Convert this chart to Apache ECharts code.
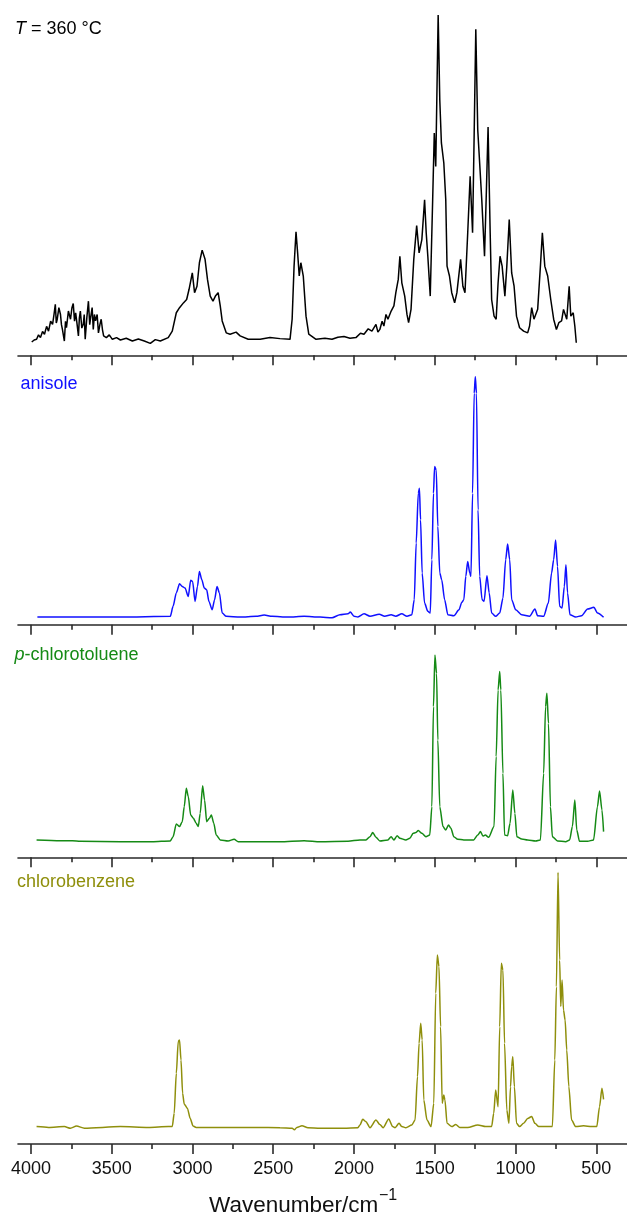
<!DOCTYPE html>
<html>
<head>
<meta charset="utf-8">
<script src="https://cdn.jsdelivr.net/npm/echarts@6/dist/echarts.min.js"></script>
<style>
html,body{margin:0;padding:0;background:#fff;}
#chart{width:627px;height:1214px;}
</style>
</head>
<body>
<div id="chart"></div>
<script>
// x: wavenumber / cm^-1, y: absorbance (each panel normalised to its tallest peak)
const majorTicks = [4000, 3500, 3000, 2500, 2000, 1500, 1000, 500];
const minorTicks = [3750, 3250, 2750, 2250, 1750, 1250, 750];
const panelLabels = ['{it|T} = 360 °C', 'anisole', '{it|p}-chlorotoluene', 'chlorobenzene'];
const panelColors = ['#000000', '#1010ff', '#158a15', '#8f8f0c'];
const axisTitle = 'Wavenumber/cm';
const axisTitleSup = '\u22121';

const spectrum360 = [
[3995,0.039],[3980,0.045],[3965,0.047],[3953,0.060],[3941,0.052],[3928,0.070],[3916,0.062],[3903,0.085],[3891,0.071],[3878,0.100],[3866,0.091],[3857,0.120],[3849,0.150],[3843,0.095],[3837,0.106],[3827,0.140],[3817,0.120],[3811,0.090],[3805,0.076],
[3793,0.042],[3786,0.100],[3780,0.081],[3768,0.130],[3755,0.106],[3746,0.140],[3738,0.152],[3730,0.100],[3723,0.125],[3714,0.090],[3706,0.057],[3700,0.110],[3694,0.130],[3685,0.080],[3676,0.091],[3670,0.120],[3664,0.047],[3654,0.110],[3644,0.159],
[3636,0.090],[3629,0.115],[3621,0.140],[3614,0.076],[3607,0.120],[3600,0.101],[3590,0.120],[3582,0.066],[3573,0.090],[3565,0.106],[3557,0.075],[3550,0.057],[3533,0.052],[3515,0.060],[3496,0.047],[3470,0.052],[3446,0.045],[3410,0.050],[3372,0.042],
[3335,0.048],[3298,0.042],[3261,0.035],[3230,0.046],[3199,0.042],[3150,0.052],[3125,0.071],[3100,0.125],[3080,0.140],[3056,0.154],[3036,0.164],[3021,0.194],
[3001,0.242],[2987,0.184],[2972,0.203],[2957,0.272],[2940,0.309],[2922,0.282],[2907,0.223],[2890,0.174],[2873,0.159],[2858,0.174],
[2841,0.184],[2828,0.145],[2816,0.101],[2791,0.066],[2767,0.062],[2730,0.068],[2705,0.057],[2655,0.047],[2581,0.047],[2520,0.052],[2458,0.049],
[2396,0.047],[2383,0.106],[2371,0.262],[2359,0.363],[2349,0.301],[2339,0.233],[2329,0.272],[2314,0.233],[2297,0.115],[2280,0.062],
[2235,0.047],[2180,0.050],[2136,0.047],[2100,0.053],[2062,0.055],[2025,0.050],[1988,0.052],[1960,0.065],[1938,0.062],[1912,0.078],[1889,0.071],[1864,0.091],[1852,0.068],[1840,0.076],[1826,0.100],[1815,0.086],[1802,0.120],[1790,0.106],
[1770,0.130],[1753,0.145],[1741,0.184],[1726,0.223],[1716,0.291],[1704,0.213],[1686,0.174],[1672,0.120],[1662,0.096],[1647,0.135],
[1630,0.282],[1612,0.381],[1597,0.301],[1580,0.340],[1563,0.457],[1553,0.360],[1543,0.291],[1528,0.174],[1513,0.457],[1503,0.653],
[1494,0.555],[1479,1.000],[1469,0.751],[1459,0.624],[1444,0.565],[1432,0.457],[1424,0.262],[1409,0.233],[1395,0.184],[1377,0.154],
[1363,0.184],[1340,0.282],[1326,0.203],[1313,0.184],[1296,0.360],[1281,0.526],[1266,0.360],[1256,0.653],[1246,0.958],[1234,0.663],
[1222,0.668],[1209,0.457],[1192,0.291],[1182,0.457],[1170,0.671],[1157,0.360],[1148,0.164],[1133,0.115],[1120,0.106],[1108,0.213],
[1096,0.291],[1083,0.262],[1066,0.174],[1054,0.262],[1039,0.399],[1024,0.242],[1009,0.203],[994,0.115],[975,0.081],[950,0.071],
[925,0.066],[913,0.086],[900,0.140],[886,0.106],[863,0.135],[846,0.262],[834,0.360],[819,0.262],[801,0.233],[782,0.164],
[764,0.106],[747,0.076],[732,0.096],[715,0.101],[703,0.135],[683,0.106],[668,0.203],[658,0.115],[643,0.125],[633,0.086],[624,0.037]
];

const anisole = [
[3960,0.031],[3694,0.031],[3446,0.031],[3137,0.034],[3120,0.074],[3100,0.128],[3080,0.165],[3063,0.154],[3046,0.148],[3026,0.114],
[3011,0.179],[2999,0.174],[2984,0.094],[2969,0.154],[2957,0.215],[2942,0.181],[2927,0.148],[2912,0.141],[2898,0.094],[2878,0.060],
[2863,0.101],[2848,0.154],[2833,0.128],[2816,0.047],[2791,0.034],[2705,0.031],[2606,0.034],[2556,0.039],[2507,0.034],[2408,0.031],
[2309,0.034],[2210,0.031],[2136,0.028],[2087,0.040],[2037,0.044],[2023,0.051],[2000,0.034],[1976,0.031],[1938,0.044],[1901,0.034],
[1844,0.042],[1810,0.034],[1770,0.040],[1741,0.034],[1704,0.044],[1672,0.034],[1642,0.040],[1627,0.101],[1615,0.329],[1602,0.530],
[1595,0.550],[1588,0.423],[1578,0.208],[1563,0.087],[1543,0.054],[1528,0.047],[1518,0.262],[1508,0.530],[1501,0.638],[1491,0.624],
[1481,0.396],[1469,0.208],[1457,0.181],[1439,0.101],[1419,0.040],[1382,0.036],[1350,0.060],[1333,0.090],[1320,0.101],[1308,0.195],
[1296,0.255],[1283,0.208],[1276,0.195],[1266,0.530],[1256,0.933],[1249,1.000],[1242,0.933],[1232,0.463],[1222,0.195],[1207,0.101],
[1195,0.094],[1177,0.197],[1163,0.128],[1148,0.047],[1123,0.034],[1098,0.047],[1078,0.107],[1061,0.262],[1049,0.325],[1036,0.262],
[1024,0.101],[999,0.060],[962,0.040],[913,0.034],[880,0.063],[863,0.036],[826,0.034],[797,0.087],[777,0.208],[764,0.262],
[752,0.342],[740,0.235],[727,0.074],[712,0.067],[698,0.154],[688,0.242],[678,0.128],[663,0.040],[628,0.031],[591,0.036],
[554,0.063],[515,0.070],[493,0.047],[455,0.030]
];

const pChlorotoluene = [
[3965,0.086],[3817,0.082],[3743,0.082],[3694,0.079],[3446,0.077],[3249,0.077],[3137,0.081],[3120,0.102],[3100,0.165],[3080,0.152],
[3063,0.176],[3051,0.250],[3038,0.341],[3026,0.300],[3011,0.209],[2994,0.193],[2977,0.168],[2964,0.152],[2952,0.217],[2937,0.354],
[2925,0.283],[2912,0.176],[2895,0.193],[2883,0.209],[2868,0.168],[2853,0.110],[2828,0.086],[2779,0.081],[2742,0.089],[2717,0.077],
[2581,0.077],[2458,0.077],[2309,0.082],[2210,0.077],[2037,0.079],[1963,0.086],[1926,0.086],[1901,0.102],[1884,0.122],[1864,0.099],
[1840,0.081],[1790,0.086],[1770,0.102],[1753,0.086],[1733,0.107],[1716,0.094],[1679,0.086],[1654,0.094],[1634,0.119],[1617,0.122],
[1602,0.132],[1580,0.119],[1555,0.102],[1531,0.110],[1518,0.250],[1508,0.745],[1499,1.000],[1489,0.909],[1481,0.580],[1469,0.250],
[1449,0.152],[1432,0.135],[1415,0.160],[1400,0.143],[1382,0.102],[1358,0.089],[1320,0.086],[1259,0.086],[1234,0.110],[1217,0.127],
[1202,0.105],[1187,0.110],[1167,0.099],[1133,0.152],[1120,0.498],[1108,0.827],[1098,0.918],[1091,0.827],[1078,0.415],[1068,0.110],
[1049,0.107],[1034,0.168],[1017,0.333],[1004,0.217],[992,0.102],[962,0.091],[925,0.086],[876,0.081],[846,0.086],[826,0.415],
[814,0.745],[806,0.811],[796,0.662],[784,0.250],[772,0.102],[740,0.081],[690,0.077],[665,0.086],[648,0.152],[633,0.283],
[621,0.135],[604,0.079],[554,0.079],[517,0.086],[493,0.250],[480,0.328],[465,0.234],[455,0.127]
];

const chlorobenzene = [
[3965,0.064],[3891,0.061],[3793,0.064],[3755,0.058],[3718,0.066],[3669,0.058],[3446,0.064],[3273,0.061],[3150,0.064],[3125,0.064],
[3113,0.113],[3100,0.260],[3088,0.377],[3080,0.383],[3071,0.309],[3061,0.187],[3051,0.147],[3031,0.131],[3014,0.094],[2996,0.066],
[2977,0.061],[2828,0.061],[2606,0.061],[2458,0.060],[2383,0.058],[2369,0.052],[2354,0.061],[2322,0.067],[2285,0.060],[2210,0.058],
[2062,0.058],[1976,0.060],[1963,0.070],[1946,0.091],[1926,0.082],[1901,0.060],[1864,0.088],[1840,0.072],[1820,0.060],[1785,0.092],
[1761,0.064],[1746,0.060],[1721,0.076],[1704,0.064],[1679,0.060],[1642,0.070],[1622,0.088],[1607,0.248],[1597,0.371],[1587,0.444],
[1578,0.383],[1568,0.162],[1548,0.088],[1523,0.064],[1506,0.150],[1494,0.555],[1484,0.696],[1474,0.653],[1464,0.432],[1454,0.150],
[1444,0.180],[1437,0.162],[1424,0.076],[1395,0.064],[1370,0.072],[1345,0.061],[1296,0.061],[1234,0.070],[1185,0.064],[1148,0.064],
[1135,0.113],[1123,0.199],[1108,0.137],[1098,0.432],[1088,0.665],[1078,0.640],[1068,0.371],[1054,0.125],[1041,0.076],[1031,0.211],
[1024,0.285],[1017,0.321],[1007,0.211],[994,0.076],[975,0.064],[950,0.076],[925,0.094],[900,0.101],[880,0.076],[856,0.064],
[801,0.064],[772,0.064],[757,0.309],[747,0.579],[737,1.000],[727,0.677],[720,0.506],[712,0.604],[703,0.493],[693,0.456],
[683,0.346],[670,0.211],[653,0.088],[628,0.064],[579,0.067],[529,0.064],[497,0.064],[480,0.137],[465,0.205],[455,0.164]
];

const spectra = [spectrum360, anisole, pChlorotoluene, chlorobenzene];

// panel frames (top of tallest peak, height to baseline axis)
const panelTop = [15, 376.7, 655, 872.3];
const panelAxisY = [355.3, 624.7, 857.3, 1144];
const labelPos = [[15, 31.2], [20.5, 386.4], [14.5, 657], [17, 884.4]];

const FONT = '"Liberation Sans", Arial, Helvetica, sans-serif';
const W = 627, H = 1214;
const X_MIN = 310, X_MAX = 4080;

const grids = [], xAxes = [], yAxes = [], series = [], graphics = [];
for (let i = 0; i < 4; i++) {
  grids.push({left: 18, right: 0, top: panelTop[i], height: panelAxisY[i] - panelTop[i], containLabel: false});
  const axisCommon = {gridIndex: i, type: 'value', min: X_MIN, max: X_MAX, inverse: true, position: 'bottom', splitLine: {show: false}};
  xAxes.push(Object.assign({}, axisCommon, {
    axisLine: {show: true, lineStyle: {color: '#2a2a2a', width: 1.6}},
    axisTick: {show: true, customValues: majorTicks, length: 10, lineStyle: {color: '#2a2a2a', width: 1.6}},
    axisLabel: {show: i === 3, customValues: majorTicks, margin: 16, fontSize: 18, color: '#111', fontFamily: FONT,
                formatter: function (v) { return String(v); }}
  }));
  xAxes.push(Object.assign({}, axisCommon, {
    axisLine: {show: false},
    axisTick: {show: true, customValues: minorTicks, length: 5, lineStyle: {color: '#2a2a2a', width: 1.6}},
    axisLabel: {show: false}
  }));
  yAxes.push({gridIndex: i, type: 'value', min: 0, max: 1, show: false});
  series.push({
    type: 'line', xAxisIndex: 2 * i, yAxisIndex: i, data: spectra[i], showSymbol: false,
    smooth: i === 0 ? false : 0.25, smoothMonotone: 'x',
    lineStyle: {color: panelColors[i], width: 1.5}, itemStyle: {color: panelColors[i]}
  });
  graphics.push({
    type: 'text', left: labelPos[i][0], top: labelPos[i][1] - 11,
    style: {text: panelLabels[i], font: '18px ' + FONT, fill: panelColors[i],
            rich: {it: {fontStyle: 'italic', fontSize: 18, fontFamily: FONT, fill: panelColors[i]}}}
  });
}
graphics.push({type: 'text', left: 209, top: 1194, style: {text: axisTitle, font: '22.5px ' + FONT, fill: '#111'}});
graphics.push({type: 'text', left: 379, top: 1188, style: {text: axisTitleSup, font: '16px ' + FONT, fill: '#111'}});

const chart = echarts.init(document.getElementById('chart'), null, {renderer: 'canvas', width: W, height: H});
chart.setOption({
  animation: false,
  backgroundColor: '#ffffff',
  grid: grids, xAxis: xAxes, yAxis: yAxes, series: series, graphic: graphics
});
</script>
</body>
</html>
